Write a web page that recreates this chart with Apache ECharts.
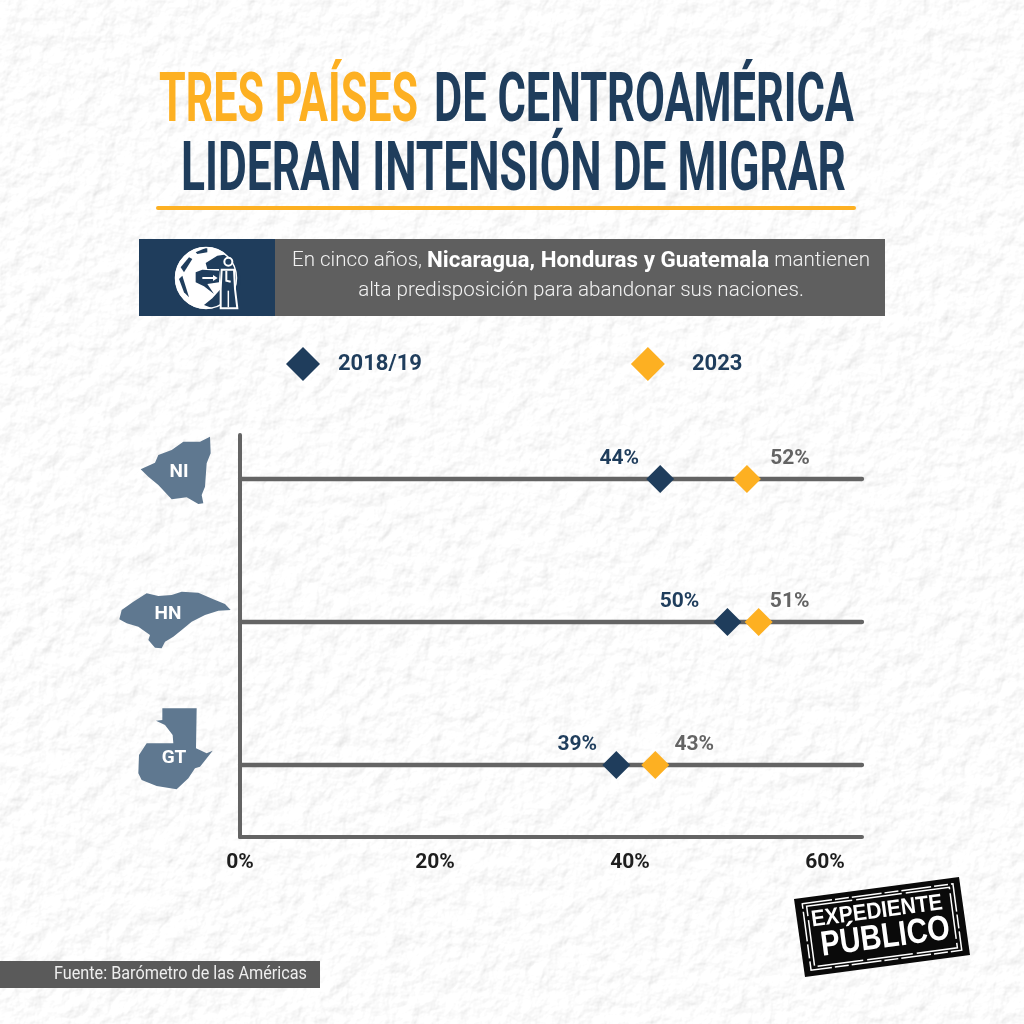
<!DOCTYPE html>
<html><head><meta charset="utf-8">
<style>html,body{margin:0;padding:0;background:#f4f4f4;width:1024px;height:1024px;overflow:hidden}
#paper{position:absolute;left:0;top:0}#c{position:absolute;left:0;top:0;width:1024px;height:1024px}</style>
<script src="https://cdn.jsdelivr.net/npm/echarts@6/dist/echarts.min.js"></script>
</head><body>
<svg id="paper" width="1024" height="1024"><filter id="p" x="0" y="0" width="100%" height="100%"><feTurbulence type="fractalNoise" baseFrequency=".055 .05" numOctaves="4" seed="11"/><feDiffuseLighting lighting-color="#ffffff" surfaceScale="1.5" diffuseConstant="1.11"><feDistantLight azimuth="55" elevation="62"/></feDiffuseLighting></filter><rect width="1024" height="1024" filter="url(#p)"/></svg>
<div id="c"></div>
<script>
// ---------- data ----------
const countries = ['NI', 'HN', 'GT'];
const seriesNames = ['2018/19', '2023'];
const values2018 = [43.1, 50, 38.6];     // plotted marker positions
const values2023 = [52, 53.2, 42.6];
const labels2018 = ['44%', '50%', '39%']; // printed labels
const labels2023 = ['52%', '51%', '43%'];
const tickStep = 20;
const axisEnd = 63.8;
// ---------- layout / style ----------
const NAVY = '#1f3d5c', YELLOW = '#fdb022', GREY = '#646464', MAP = '#5f7890';
const labelDx2018 = [-41, -48, -39];
const labelDx2023 = [43, 31, 39];
const FONT = 'Roboto, sans-serif';
const NARROW = '"Liberation Sans Narrow", Roboto, sans-serif';
const WIDE = '"Liberation Sans", sans-serif';

const mctx = document.createElement('canvas').getContext('2d');
function fit(text, font, w) { mctx.font = font; return w / mctx.measureText(text).width; }
function fitText(text, x0, x1, cy, font, fill) {
  return { type: 'text', x: x0, y: cy, scaleX: fit(text, font, x1 - x0), silent: true,
    style: { text, font, fill, textAlign: 'left', textVerticalAlign: 'middle' } };
}
function poly(points, fill) {
  return { type: 'polygon', silent: true, shape: { points }, style: { fill } };
}
function zoomPts(a, ox, oy) { return a.map(p => [ox + p[0] / 3, oy + p[1] / 3]); }
const niShape = zoomPts([[122,148],[165,128],[175,105],[215,90],[250,65],[300,65],[330,50],[332,100],[320,130],[315,200],[305,225],[310,250],[295,252],[260,232],[215,238],[175,195],[145,170]], 100, 420);
const hnShape = zoomPts([[28,118],[35,90],[70,65],[110,40],[145,48],[185,45],[215,35],[265,38],[310,58],[345,72],[362,90],[325,92],[285,105],[245,125],[215,150],[190,170],[165,185],[155,205],[135,203],[115,180],[120,165],[85,140],[50,130]], 110, 580);
const gtShape = zoomPts([[187,865],[290,865],[288,985],[320,1000],[338,992],[300,1040],[285,1045],[265,1075],[230,1108],[170,1098],[125,1080],[115,1060],[117,1005],[140,970],[220,970],[218,945],[195,915],[168,902],[187,900]], 100, 420);
const mapLabelPos = [[179, 472], [168, 614], [174, 758]];
const ic = a => zoomPts(a, 139, 239);

const titleFont = 'bold 68px ' + NARROW;
const graphics = [
  fitText('TRES PAÍSES', 159, 418, 104, titleFont, YELLOW),
  fitText('DE CENTROAMÉRICA', 434, 854, 104, titleFont, NAVY),
  fitText('LIDERAN INTENSIÓN DE MIGRAR', 181, 846, 173, titleFont, NAVY),
  { type: 'rect', silent: true, shape: { x: 156, y: 206, width: 700, height: 4, r: 2 }, style: { fill: YELLOW } },
  // banner
  { type: 'rect', silent: true, shape: { x: 139, y: 239, width: 746, height: 77 }, style: { fill: '#5f5f5f' } },
  { type: 'rect', silent: true, shape: { x: 139, y: 239, width: 136, height: 77 }, style: { fill: NAVY } },
  // globe icon
  { type: 'circle', silent: true, shape: { cx: 206, cy: 278, r: 31 }, style: { fill: '#fff' } },
  { type: 'polygon', silent: true, shape: { points: ic([[170,40],[205,25],[205,40],[175,45]]) }, style: { fill: NAVY } },
  { type: 'polygon', silent: true, shape: { points: ic([[125,85],[150,55],[160,60],[135,100]]) }, style: { fill: NAVY } },
  { type: 'polygon', silent: true, shape: { points: ic([[120,120],[130,110],[150,175],[135,160]]) }, style: { fill: NAVY } },
  { type: 'polygon', silent: true, shape: { points: ic([[170,100],[190,92],[240,95],[240,130],[205,135],[225,165],[195,142],[170,130]]) }, style: { fill: NAVY } },
  { type: 'polygon', silent: true, shape: { points: ic([[200,72],[235,50],[270,45],[305,110],[300,190],[240,215],[195,198],[220,178],[245,150],[240,90],[205,90]]) }, style: { fill: NAVY } },
  { type: 'circle', silent: true, shape: { cx: 206, cy: 278, r: 30.5 }, style: { fill: 'none', stroke: '#fff', lineWidth: 1.5 } },
  { type: 'polyline', silent: true, shape: { points: ic([[190,117],[228,117]]) }, style: { stroke: '#fff', lineWidth: 2 } },
  { type: 'polygon', silent: true, shape: { points: ic([[222,108],[236,117],[222,126]]) }, style: { fill: '#fff' } },
  { type: 'polygon', silent: true, shape: { points: ic([[248,92],[285,92],[288,150],[295,208],[245,208],[245,150]]) }, style: { fill: NAVY, stroke: '#fff', lineWidth: 2 } },
  { type: 'circle', silent: true, shape: { cx: 139 + 268 / 3, cy: 239 + 68 / 3, r: 4 }, style: { fill: NAVY, stroke: '#fff', lineWidth: 2 } },
  { type: 'polyline', silent: true, shape: { points: ic([[262,95],[262,125],[275,128]]) }, style: { stroke: '#fff', lineWidth: 2 } },
  { type: 'polyline', silent: true, shape: { points: ic([[268,155],[268,205]]) }, style: { stroke: '#fff', lineWidth: 1.5 } },
  // banner text
  { type: 'text', silent: true, x: 581, y: 261, style: {
      text: '{a|En cinco años, }{b|Nicaragua, Honduras y Guatemala}{a| mantienen}',
      textAlign: 'center', textVerticalAlign: 'middle',
      rich: { a: { font: '300 20.6px ' + FONT, fill: '#f2f2f2' }, b: { font: '700 22.4px ' + FONT, fill: '#fff' } } } },
  { type: 'text', silent: true, x: 581, y: 291, style: { text: 'alta predisposición para abandonar sus naciones.',
      font: '300 20.6px ' + FONT, fill: '#f2f2f2', textAlign: 'center', textVerticalAlign: 'middle' } },
  // country maps
  poly(niShape, MAP), poly(hnShape, MAP), poly(gtShape, MAP),
  // footer
  { type: 'rect', silent: true, shape: { x: 0, y: 961, width: 320, height: 27 }, style: { fill: '#5a5a5a' } },
  fitText('Fuente: Barómetro de las Américas', 54, 307, 974, '400 18px ' + NARROW, '#eeeeee'),
  // stamp logo
  { type: 'polygon', silent: true, shape: { points: [[794,899],[959,877],[970,955],[805,977]] }, style: { fill: '#0a0a0a' } },
  { type: 'group', x: 882, y: 927, rotation: 0.132, silent: true, children: [
      { type: 'rect', shape: { x: -76, y: -33.5, width: 152, height: 67 }, style: { fill: 'none', stroke: '#fff', lineWidth: 1.5, lineDash: [30, 3, 14, 3] } },
      { type: 'rect', shape: { x: -72, y: -30.5, width: 144, height: 61 }, style: { fill: 'none', stroke: '#fff', lineWidth: 1.5, lineDash: [46, 4] } },
      { type: 'text', x: -3, y: -16, scaleX: fit('EXPEDIENTE', 'bold 23px ' + WIDE, 132), style: { text: 'EXPEDIENTE', font: 'bold 23px ' + WIDE, fill: '#fff', textAlign: 'center', textVerticalAlign: 'middle' } },
      { type: 'text', x: 2, y: 11, scaleX: fit('PÚBLICO', 'bold 35px ' + WIDE, 130), style: { text: 'PÚBLICO', font: 'bold 35px ' + WIDE, fill: '#fff', textAlign: 'center', textVerticalAlign: 'middle' } }
  ] }
];
countries.forEach((c, i) => graphics.push({ type: 'text', silent: true, x: mapLabelPos[i][0], y: mapLabelPos[i][1],
  style: { text: c, font: '700 19px ' + FONT, fill: '#fff', textAlign: 'center', textVerticalAlign: 'middle' } }));

const rails = countries.map((c, i) => ({
  type: 'line', name: c, silent: true, symbol: 'none', z: 1, clip: false,
  lineStyle: { color: GREY, width: 4.3, cap: 'round' },
  data: [[0, i], [axisEnd, i]]
}));
function markers(name, vals, labels, dx, color, labelColor, z) {
  return { type: 'scatter', name, symbol: 'diamond', symbolSize: 28, z, clip: false,
    itemStyle: { color, opacity: 1 },
    data: vals.map((v, i) => ({ value: [v, i],
      label: { show: true, position: 'inside', offset: [dx[i], -20], formatter: labels[i],
               color: labelColor, fontFamily: FONT, fontWeight: 700, fontSize: 21 } })) };
}
const chart = echarts.init(document.getElementById('c'), null, { renderer: 'canvas' });
chart.setOption({
  animation: false,
  backgroundColor: 'transparent',
  textStyle: { fontFamily: FONT },
  grid: { left: 240, top: 435, width: 622, height: 402, containLabel: false },
  legend: { left: 281, top: 342, itemWidth: 34, itemHeight: 34, itemGap: 209, selectedMode: false,
    data: seriesNames.map((n, i) => ({ name: n, icon: 'diamond',
      textStyle: { color: NAVY, fontFamily: FONT, fontWeight: 700, fontSize: 22, padding: [0, 0, 0, i ? 22 : 13] } })) },
  xAxis: { type: 'value', min: 0, max: axisEnd, interval: tickStep, position: 'bottom',
    splitLine: { show: false }, axisTick: { show: false },
    axisLine: { show: true, onZero: false, lineStyle: { color: GREY, width: 4, cap: 'round' } },
    axisLabel: { formatter: '{value}%', color: '#1e1e1e', fontFamily: FONT, fontWeight: 700, fontSize: 21, margin: 15, showMaxLabel: false } },
  yAxis: { type: 'value', inverse: true, min: -0.3077, max: 2.5035, position: 'left',
    splitLine: { show: false }, axisTick: { show: false }, axisLabel: { show: false },
    axisLine: { show: true, onZero: false, lineStyle: { color: GREY, width: 4, cap: 'round' } } },
  series: rails.concat([
    markers(seriesNames[0], values2018, labels2018, labelDx2018, NAVY, NAVY, 3),
    markers(seriesNames[1], values2023, labels2023, labelDx2023, YELLOW, GREY, 4)
  ]),
  graphic: graphics
});
</script>
</body></html>
